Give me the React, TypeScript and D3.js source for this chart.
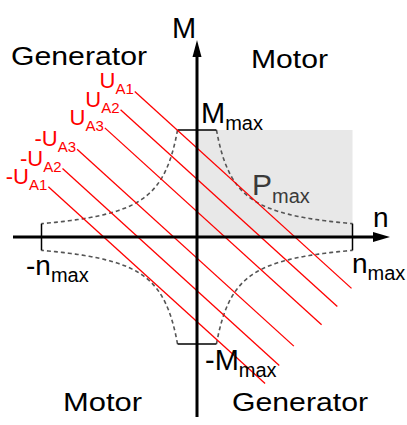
import * as d3 from "d3";

// operating limits (normalised)
const nMax = 1;
const mMax = 1;
const pMax = 0.125;

// armature voltage lines
const voltageSign = ["", "", "", "-", "-", "-"];
const voltageSub = ["A1", "A2", "A3", "A3", "A2", "A1"];
const noLoadSpeed = [0.63, 0.41, 0.18, -0.15, -0.38, -0.6];
const lineTopTorque = [1.36, 1.19, 1.02, 0.82, 0.64, 0.47];
const lineTorqueSpan = 1.84;
const lineSlope = 1.32;

const quadrantNames = ["Generator", "Motor", "Motor", "Generator"];

const W = 407;
const H = 425;
const FONT = "'Liberation Sans', Arial, Helvetica, sans-serif";

type LabelProps = {
  x: number;
  y: number;
  main: string;
  sub?: string;
  size: number;
  subSize?: number;
  subDy?: number;
  fill?: string;
  anchor?: "start" | "end" | "middle";
};

const Label = ({ x, y, main, sub, size, subSize, subDy, fill = "#000", anchor = "start" }: LabelProps) => (
  <text x={x} y={y} fontSize={size} fill={fill} textAnchor={anchor} fontFamily={FONT}>
    <tspan>{main}</tspan>
    {sub && (
      <tspan fontSize={subSize} dy={subDy}>
        {sub}
      </tspan>
    )}
  </text>
);

export default function App() {
  const x = d3.scaleLinear().domain([-nMax, nMax]).range([41.5, 352.5]);
  const y = d3.scaleLinear().domain([-mMax, mMax]).range([344, 130]);

  const line = d3
    .line<[number, number]>()
    .x((d) => x(d[0]))
    .y((d) => y(d[1]));

  // constant power hyperbola, one per quadrant
  const hyper = d3.range(0, 61).map((i) => pMax + ((nMax - pMax) * i) / 60);
  const quadrants: [number, number][] = [
    [1, 1],
    [-1, 1],
    [-1, -1],
    [1, -1],
  ];

  const x0 = x(0);
  const y0 = y(0);

  const vLines = noLoadSpeed.map((n0, i) => {
    const mTop = lineTopTorque[i];
    const mBot = mTop - lineTorqueSpan;
    const p1: [number, number] = [n0 - mTop / lineSlope, mTop];
    const p2: [number, number] = [n0 - mBot / lineSlope, mBot];
    return { p1, p2, i };
  });

  const quadPos = [
    { x: 11, y: 65, len: 136 },
    { x: 251, y: 68, len: 77 },
    { x: 63, y: 411, len: 79 },
    { x: 232, y: 411, len: 136 },
  ];

  return (
    <svg
      width={W}
      height={H}
      style={{ position: "absolute", left: 0, top: 0, background: "#fff" }}
    >
      {/* P_max area */}
      <rect x={x0} y={y(mMax)} width={x(nMax) - x0} height={y0 - y(mMax)} fill="#e8e8e8" />

      {/* hyperbolas */}
      {quadrants.map(([sx, sy], k) => (
        <path
          key={k}
          d={line(hyper.map((n) => [sx * n, (sy * pMax) / n]))!}
          fill="none"
          stroke="#555"
          strokeWidth={1.6}
          strokeDasharray="4 3"
        />
      ))}

      {/* M_max limits */}
      {[mMax, -mMax].map((m) => (
        <line key={m} x1={x(-pMax)} x2={x(pMax)} y1={y(m)} y2={y(m)} stroke="#000" strokeWidth={1.5} />
      ))}
      {/* n_max limits */}
      {[nMax, -nMax].map((n) => (
        <line key={n} x1={x(n)} x2={x(n)} y1={y(pMax)} y2={y(-pMax)} stroke="#000" strokeWidth={1.5} />
      ))}

      {/* voltage lines */}
      {vLines.map(({ p1, p2, i }) => (
        <g key={i}>
          <path d={line([p1, p2])!} stroke="#ff0000" strokeWidth={1.3} fill="none" />
          <Label
            x={x(p1[0]) - 1}
            y={y(p1[1]) - 3}
            main={voltageSign[i] + "U"}
            sub={voltageSub[i]}
            size={22}
            subSize={15}
            subDy={6}
            fill="#ff0000"
            anchor="end"
          />
        </g>
      ))}

      {/* axes */}
      <line x1={13} x2={376} y1={y0} y2={y0} stroke="#000" strokeWidth={3} />
      <path d={`M390,${y0} L373,${y0 - 5} L373,${y0 + 5} Z`} fill="#000" />
      <line x1={x0} x2={x0} y1={54} y2={417} stroke="#000" strokeWidth={3} />
      <path d={`M${x0},40 L${x0 - 4.5},57 L${x0 + 4.5},57 Z`} fill="#000" />

      <Label x={172} y={38} main="M" size={29} />
      <Label x={373} y={227} main="n" size={28} />

      <Label x={x0 + 4} y={y(mMax) - 7} main="M" sub="max" size={29} subSize={20} subDy={7} />
      <Label x={x0 + 8} y={y(-mMax) + 26} main="-M" sub="max" size={29} subSize={20} subDy={7} />
      <Label x={x(nMax) - 0.5} y={y0 + 36} main="n" sub="max" size={28} subSize={20} subDy={7} />
      <Label x={26} y={y0 + 38} main="-n" sub="max" size={28} subSize={20} subDy={7} />
      <Label x={252} y={195} main="P" sub="max" size={30} subSize={20} subDy={8} fill="#3a3a3a" />

      {quadrantNames.map((name, i) => (
        <text
          key={i}
          x={quadPos[i].x}
          y={quadPos[i].y}
          fontSize={26}
          fontFamily={FONT}
          textLength={quadPos[i].len}
          lengthAdjust="spacingAndGlyphs"
        >
          {name}
        </text>
      ))}
    </svg>
  );
}
